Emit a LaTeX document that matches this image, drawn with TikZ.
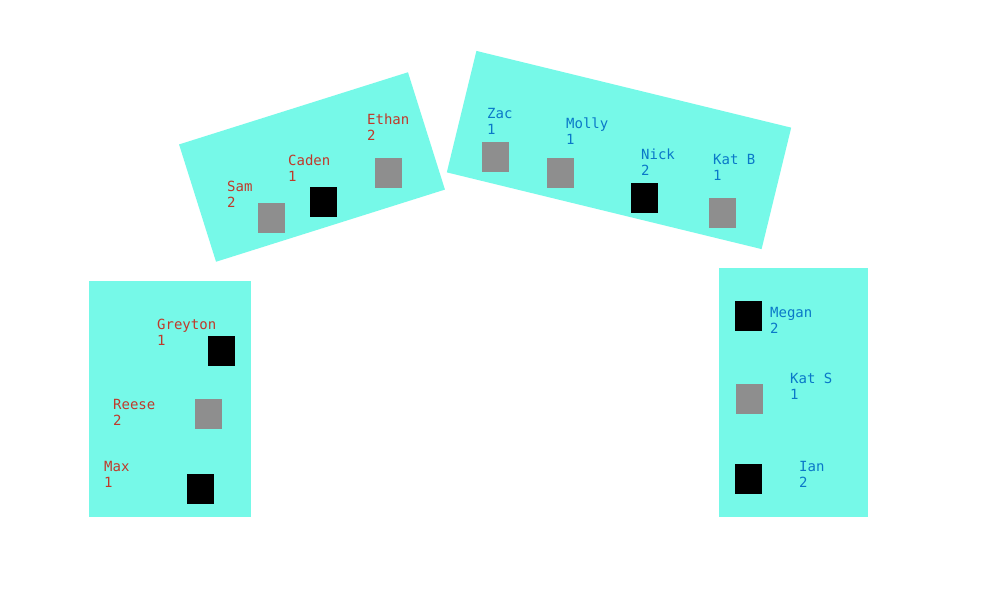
\documentclass[tikz,border=0pt]{standalone}
\usepackage{fontspec}
\setmonofont{DejaVu Sans Mono}
\definecolor{tablecyan}{HTML}{76F9E8}
\definecolor{seatgray}{HTML}{8E8E8E}
\definecolor{redname}{HTML}{C0392B}
\definecolor{bluename}{HTML}{0A78C8}

\tikzstyle{table} = [rectangle, fill=tablecyan, draw=none, inner sep=0pt]
\tikzstyle{empty} = [rectangle, fill=seatgray, minimum width=27pt, minimum height=30pt, inner sep=0pt]
\tikzstyle{taken} = [rectangle, fill=black, minimum width=27pt, minimum height=30pt, inner sep=0pt]
\tikzstyle{redguest} = [anchor=north west, inner sep=0pt, align=left, text=redname, font=\ttfamily\fontsize{14pt}{16pt}\selectfont]
\tikzstyle{blueguest} = [anchor=north west, inner sep=0pt, align=left, text=bluename, font=\ttfamily\fontsize{14pt}{16pt}\selectfont]

\begin{document}
\begin{tikzpicture}[x=1pt,y=-1pt]

    \useasboundingbox[fill=white] (0,0) rectangle (1000,600);

    % Tavoli
    \node[table, minimum width=240pt, minimum height=123pt, rotate=17.5] (tabA) at (312,167) {};
    \node[table, minimum width=324pt, minimum height=125pt, rotate=-13.7] (tabB) at (619,150) {};
    \node[table, minimum width=162pt, minimum height=236pt] (tabC) at (170,399) {};
    \node[table, minimum width=149pt, minimum height=249pt] (tabD) at (793.5,392.5) {};

    % Posti
    \node[empty] (sSam) at (271.5,218) {};
    \node[taken] (sCaden) at (323.5,202) {};
    \node[empty] (sEthan) at (388.5,173) {};
    \node[empty] (sZac) at (495.5,157) {};
    \node[empty] (sMolly) at (560.5,173) {};
    \node[taken] (sNick) at (644.5,198) {};
    \node[empty] (sKatB) at (722.5,213) {};
    \node[taken] (sGreyton) at (221.5,351) {};
    \node[empty] (sReese) at (208.5,414) {};
    \node[taken] (sMax) at (200.5,489) {};
    \node[taken] (sMegan) at (748.5,316) {};
    \node[empty] (sKatS) at (749.5,399) {};
    \node[taken] (sIan) at (748.5,479) {};

    % Nomi
    \node[redguest] (nSam) at (227,180.5) {Sam\\2};
    \node[redguest] (nCaden) at (288,154.5) {Caden\\1};
    \node[redguest] (nEthan) at (367,113.5) {Ethan\\2};
    \node[blueguest] (nZac) at (487,108.5) {Zac\\1};
    \node[blueguest] (nMolly) at (566,117.5) {Molly\\1};
    \node[blueguest] (nNick) at (641,148.5) {Nick\\2};
    \node[blueguest] (nKatB) at (713,154.5) {Kat B\\1};
    \node[redguest] (nGreyton) at (157,318.5) {Greyton\\1};
    \node[redguest] (nReese) at (113,399.5) {Reese\\2};
    \node[redguest] (nMax) at (104,461.5) {Max\\1};
    \node[blueguest] (nMegan) at (770,307.5) {Megan\\2};
    \node[blueguest] (nKatS) at (790,372.5) {Kat S\\1};
    \node[blueguest] (nIan) at (799,461.5) {Ian\\2};

\end{tikzpicture}
\end{document}
